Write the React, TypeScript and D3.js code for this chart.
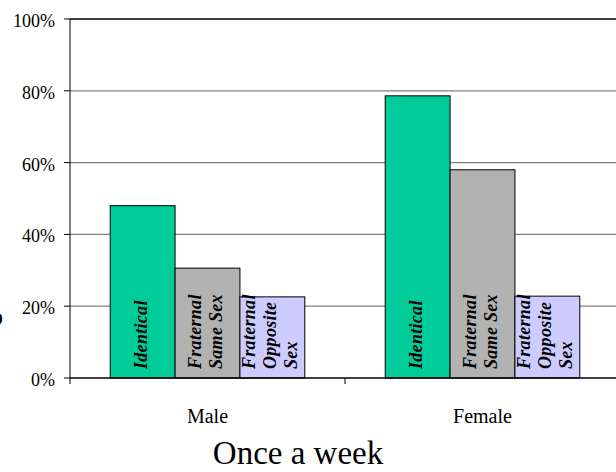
import React from "react";
import * as d3 from "d3";

const categories = ["Male", "Female"];
const seriesNames = ["Identical", "Fraternal Same Sex", "Fraternal Opposite Sex"];
const seriesLabelLines = [["Identical"], ["Fraternal", "Same Sex"], ["Fraternal", "Opposite", "Sex"]];
const identicalValues = [0.48, 0.786];
const sameSexValues = [0.306, 0.58];
const oppositeSexValues = [0.226, 0.228];
const seriesColors = ["#00CC99", "#B2B2B2", "#CCCCFF"];
const yTicks = [0, 0.2, 0.4, 0.6, 0.8, 1.0];
const xTitle = "Once a week";

const seriesValues = [identicalValues, sameSexValues, oppositeSexValues];

export default function App() {
  const W = 616, H = 472;
  const left = 70, right = 620, top = 19, bottom = 378;
  const y = d3.scaleLinear().domain([0, 1]).range([bottom, top]);
  const x0 = d3.scaleBand<string>().domain(categories).range([left, right]).paddingInner(0).paddingOuter(0);
  const x1 = d3.scaleBand<string>().domain(seriesNames).range([0, x0.bandwidth()]).paddingInner(0).paddingOuter(0.62);
  const fmt = d3.format(".0%");
  const serif = "\"Liberation Serif\", \"DejaVu Serif\", \"Times New Roman\", serif";
  const ff = { fontFamily: serif };
  const lineGap = 21;

  return (
    <svg width={W} height={H} style={{ position: "absolute", left: 0, top: 0, fontFamily: serif }}>
      <rect x={0} y={0} width={W} height={H} fill="#fff" />
      {yTicks.filter((t) => t > 0 && t < 1).map((t) => (
        <line key={"g" + t} x1={left} x2={W} y1={y(t)} y2={y(t)} stroke="#808080" strokeWidth={1.3} />
      ))}
      <line x1={left} x2={W} y1={y(1)} y2={y(1)} stroke="#000" strokeWidth={1.3} />
      {categories.map((c, ci) => (
        <g key={c}>
          {seriesNames.map((s, si) => {
            const v = seriesValues[si][ci];
            const bx = (x0(c) as number) + (x1(s) as number);
            const bw = x1.bandwidth();
            const cx = bx + bw / 2;
            const lines = seriesLabelLines[si];
            const n = lines.length;
            return (
              <g key={s}>
                <rect x={bx} y={y(v)} width={bw} height={bottom - y(v)} fill={seriesColors[si]} stroke="#000" strokeWidth={1} />
                {lines.map((ln, li) => {
                  const bxl = cx + (li - (n - 1) / 2) * lineGap + 4;
                  return (
                    <text
                      key={li}
                      transform={`translate(${bxl},${bottom - 9}) rotate(-90)`}
                      style={{ ...ff, fontSize: 18, fontWeight: "bold", fontStyle: "italic", letterSpacing: 0.3 }}
                      fill="#000"
                      textAnchor="start"
                    >
                      {ln}
                    </text>
                  );
                })}
              </g>
            );
          })}
        </g>
      ))}
      <line x1={left} x2={left} y1={top} y2={bottom} stroke="#000" strokeWidth={1} />
      {yTicks.map((t) => (
        <g key={"t" + t}>
          <line x1={left - 6} x2={left} y1={y(t)} y2={y(t)} stroke="#000" strokeWidth={1} />
          <text x={55} y={y(t) + 8} textAnchor="end" style={{ ...ff, fontSize: 18 }} fill="#000">
            {fmt(t)}
          </text>
        </g>
      ))}
      <line x1={left} x2={W} y1={bottom} y2={bottom} stroke="#000" strokeWidth={1.3} />
      {categories.map((c) => (
        <line key={"xt" + c} x1={x0(c) as number} x2={x0(c) as number} y1={bottom} y2={bottom + 6} stroke="#000" strokeWidth={1} />
      ))}
      {categories.map((c) => (
        <text key={"xl" + c} x={(x0(c) as number) + x0.bandwidth() / 2} y={423} textAnchor="middle" style={{ ...ff, fontSize: 20 }} fill="#000">
          {c}
        </text>
      ))}
      <text x={298} y={464} textAnchor="middle" style={{ ...ff, fontSize: 33 }} fill="#000">
        {xTitle}
      </text>
      <text x={-10} y={325} style={{ ...ff, fontSize: 26, fontWeight: "bold" }} fill="#000">
        o
      </text>
    </svg>
  );
}
